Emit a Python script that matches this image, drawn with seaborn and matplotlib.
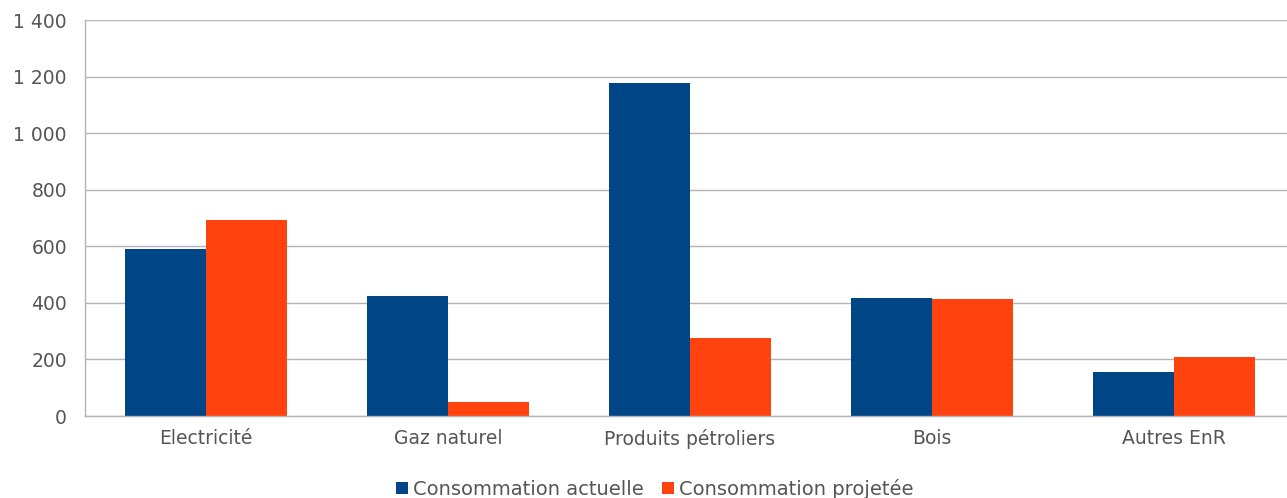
import numpy as np
import pandas as pd
import seaborn as sns
import matplotlib.pyplot as plt
from matplotlib.ticker import FuncFormatter, FixedLocator

categories = ["Electricité", "Gaz naturel", "Produits pétroliers", "Bois", "Autres EnR"]
actuelle = [589, 424, 1179, 418, 154]
projetee = [694, 48, 276, 412, 207]
series_names = ["Consommation actuelle", "Consommation projetée"]
colors = ["#004586", "#ff420e"]

df = pd.DataFrame({
    "categorie": categories * 2,
    "valeur": actuelle + projetee,
    "serie": [series_names[0]] * len(categories) + [series_names[1]] * len(categories),
})

sns.set_style("white")
plt.rcParams["font.family"] = ["DejaVu Sans"]

fig = plt.figure(figsize=(12.87, 4.98), dpi=100)
ax = fig.add_axes([85 / 1287, 82 / 498, 1210 / 1287, 396 / 498])

sns.barplot(data=df, x="categorie", y="valeur", hue="serie", palette=colors,
            width=2 / 3, gap=0, saturation=1, linewidth=0, ax=ax, legend=True)

ax.set_ylim(0, 1400)
ax.set_xlim(-0.5, len(categories) - 0.5)
ax.set_yticks(np.arange(0, 1401, 200))
ax.yaxis.set_major_formatter(FuncFormatter(lambda v, p: f"{int(v):,}".replace(",", " ")))
ax.grid(axis="y", color="#b3b3b3", linewidth=1)
ax.set_axisbelow(True)
ax.set_xlabel("")
ax.set_ylabel("")

for side in ["top", "right"]:
    ax.spines[side].set_visible(False)
for side in ["left", "bottom"]:
    ax.spines[side].set_color("#b3b3b3")
    ax.spines[side].set_linewidth(1)

ax.tick_params(axis="y", length=7, color="#b3b3b3", labelsize=13.5, labelcolor="#555555", pad=6)
ax.tick_params(axis="x", which="major", length=0, labelsize=13.5, labelcolor="#555555", pad=9)
ax.xaxis.set_minor_locator(FixedLocator(np.arange(0.5, len(categories) - 0.5, 1)))
ax.tick_params(axis="x", which="minor", length=5, color="#b3b3b3")

ax.legend_.remove()
handles, labels = ax.get_legend_handles_labels()
fig.legend(handles, labels, loc="center", bbox_to_anchor=(655 / 1287, 9 / 498),
           ncol=2, frameon=False, fontsize=14, handlelength=0.62, handleheight=0.62,
           handletextpad=0.26, columnspacing=0.95, labelcolor="#555555",
           borderpad=0.1)

fig.savefig("out.png", dpi=100)
